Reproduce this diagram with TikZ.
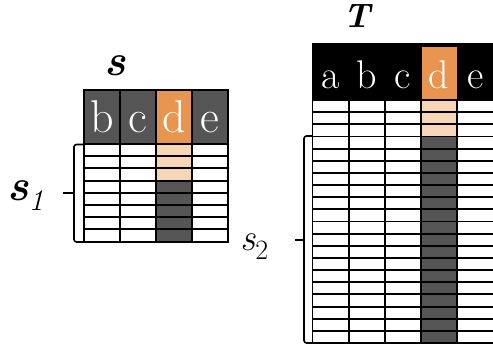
\documentclass[tikz,border=0pt]{standalone}
\usepackage{fontspec}
\definecolor{hdrgray}{HTML}{555555}
\definecolor{dorange}{HTML}{E8964F}
\definecolor{dpeach}{HTML}{F6D6B6}
\begin{document}
\begin{tikzpicture}[x=1pt,y=-1pt,
  cellbox/.style={draw=black,line width=1.9pt,inner sep=0pt,outer sep=0pt,
    anchor=north west,minimum width=36pt},
  lrow/.style={cellbox,minimum height=12.2pt},
  rrow/.style={cellbox,minimum width=36.2pt,minimum height=12.15pt},
  lhead/.style={cellbox,minimum height=54pt},
  hdrtxt/.style={text=white,anchor=base,inner sep=0pt},
  brace/.style={line width=1.6pt,rounded corners=2.5pt},
  lbl/.style={anchor=base,inner sep=0pt}]
\useasboundingbox (0,0) rectangle (493,351);

% ---- small table s ----
\foreach \c/\col [count=\i from 0] in {b/hdrgray,c/hdrgray,d/dorange,e/hdrgray}{
  \node[lhead,fill=\col] (sh-\c) at ({84+36*\i},90) {};
  \node[hdrtxt,font=\fontsize{46}{46}\selectfont] (st-\c) at ({102+36*\i},132.5) {\c};
}
\foreach \r in {0,...,7}{
  \ifnum\r<3 \def\dcol{dpeach}\else\def\dcol{hdrgray}\fi
  \foreach \c/\col [count=\i from 0] in {b/white,c/white,d/\dcol,e/white}{
    \node[lrow,fill=\col] (s-\r-\c) at ({84+36*\i},{144+12.2*\r}) {};
  }
}
\node[lbl,font=\fontsize{44}{44}\selectfont\bfseries\itshape] (slabel) at (115,75) {s};

% brace s1
\coordinate (b1t) at (84,144.5);
\coordinate (b1b) at (84,242);
\coordinate (b1m) at (74,193);
\coordinate (b1k) at (63,193);
\draw[brace] (b1t) -- (74,144.5) -- (74,242) -- (b1b);
\draw[line width=1.6pt] (b1m) -- (b1k);
\node[anchor=base west,inner sep=0pt] (s1label) at (7,200)
  {\fontsize{44}{44}\selectfont\bfseries\itshape s\raisebox{-10pt}{\fontsize{30}{30}\selectfont\mdseries\itshape 1}};

% ---- large table T ----
\fill[black] (312,43) rectangle (500,100);
\node[cellbox,draw=none,fill=dorange,minimum width=34.5pt,minimum height=53pt] (th-d) at (422,47) {};
\foreach \c [count=\i from 0] in {a,b,c,d,e}{
  \node[hdrtxt,font=\fontsize{40}{40}\selectfont] (tt-\c) at ({330.6+36.2*\i},88.5) {\c};
}
\foreach \r in {0,...,19}{
  \ifnum\r<3 \def\dcol{dpeach}\else\def\dcol{hdrgray}\fi
  \foreach \c/\col [count=\i from 0] in {a/white,b/white,c/white,d/\dcol,e/white}{
    \node[rrow,fill=\col] (t-\r-\c) at ({312.5+36.2*\i},{100+12.15*\r}) {};
  }
}
\node[lbl,font=\fontsize{34}{34}\selectfont\bfseries\itshape] (tlabel) at (357,27) {T};

% brace s2
\coordinate (b2t) at (312,136);
\coordinate (b2b) at (312,343);
\coordinate (b2m) at (304,240);
\coordinate (b2k) at (295,240);
\draw[brace] (b2t) -- (304,136) -- (304,343) -- (b2b);
\draw[line width=1.6pt] (b2m) -- (b2k);
\node[anchor=base west,inner sep=0pt] (s2label) at (240,250)
  {\fontsize{38}{38}\selectfont\itshape s\raisebox{-9pt}{\fontsize{28}{28}\selectfont\upshape 2}};
\end{tikzpicture}
\end{document}
